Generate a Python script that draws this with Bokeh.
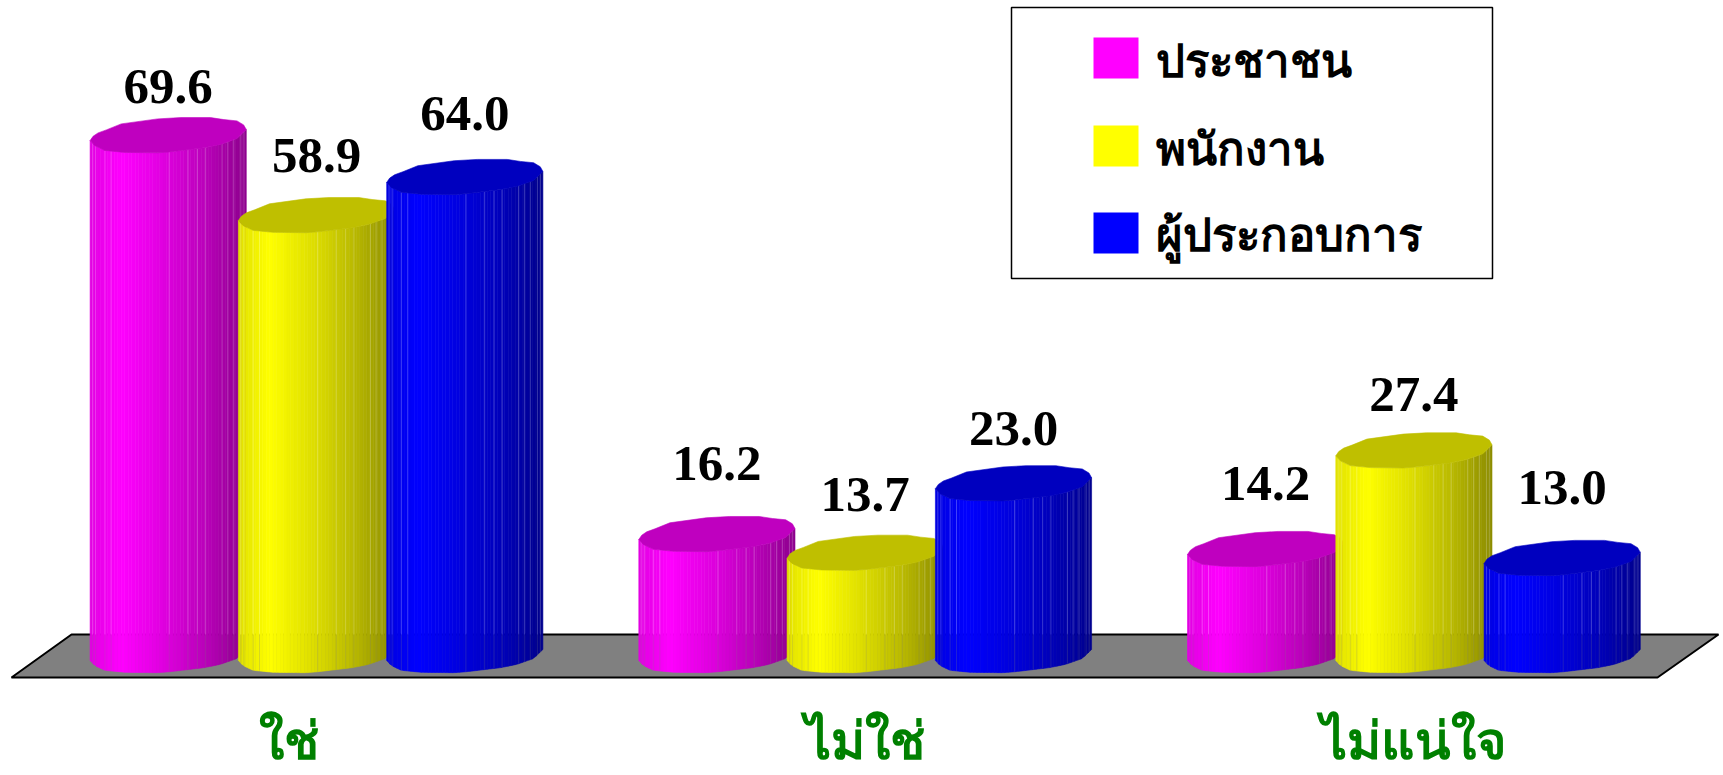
import numpy as np
from bokeh.embed import file_html
from bokeh.resources import INLINE
from bokeh.plotting import figure
from bokeh.models import ColumnDataSource, LinearAxis, FixedTicker, Range1d
from bokeh.core.properties import value

categories = ["ใช่", "ไม่ใช่", "ไม่แน่ใจ"]
series_names = ["ประชาชน", "พนักงาน", "ผู้ประกอบการ"]
people = [69.6, 16.2, 14.2]
staff = [58.9, 13.7, 27.4]
operators = [64.0, 23.0, 13.0]
series_values = [people, staff, operators]
base_colors = [(255, 0, 255), (255, 255, 0), (0, 0, 255)]

# layout (pixels of the page)
PX_PER_UNIT = 7.47
PX_PER_CAT = 548.7
ZERO_PX_Y = 660.0
CAT0_PX_X = 316.0
FIG_W, FIG_H = 1723, 775
SERIES_STEP = 148.3 / PX_PER_CAT
HALF_W = 78.1 / PX_PER_CAT
THAI = "Noto Sans"
TEXT_SHIFT = 17
LEGEND_SHIFT = 20
label_lift = [[37, 59, 54], [48, 47, 44], [52, 43, 59]]
tick_nudge = [-0.05, 0.0, 0.0]

def X(px):
    return (px - CAT0_PX_X) / PX_PER_CAT

def Y(px):
    return (ZERO_PX_Y - px) / PX_PER_UNIT

# cylinder outline, in fractions of the half width and in pixels
back_u = np.array([-1, -.962, -.898, -.792, -.602, -.136, .161, .542, .712, .881, .966, 1])
back_d = np.array([5.5, 1.2, -2.2, -5.2, -11.2, -16.2, -17.5, -17.5, -15.5, -14.2, -10.2, -5.5])
front_u = np.array([-1, -.941, -.814, -.559, -.136, .013, .458, .669, .881, 1])
front_d = np.array([5.5, 10.5, 15.3, 17.3, 17.7, 16.8, 12.7, 9.3, 3.5, -5.5])
shade_u = [-1, -.6, 0, .5, .8, 1]
shade_m = [.88, 1, .86, .72, .62, .55]
seams = np.array([-.97, -.93, -.81, -.73, .013, .254, .373, .479, .69, .763, .839, .93, .97])
strip_edges = np.linspace(-1, 1, 46)

def hexcol(rgb, m):
    return "#%02x%02x%02x" % tuple(int(round(c * m)) for c in rgb)

p = figure(width=FIG_W, height=FIG_H, output_backend="svg", toolbar_location=None,
           x_axis_type=None, y_axis_type=None, min_border=0,
           x_range=Range1d(X(0), X(FIG_W)), y_range=Range1d(Y(FIG_H), Y(0)),
           outline_line_color=None, background_fill_color="white", border_fill_color="white")
p.grid.visible = False

# floor
floor_x = [X(11), X(71), X(1718), X(1657)]
floor_y = [Y(677), Y(634), Y(634), Y(677)]
p.patch(floor_x, floor_y, fill_color="#808080", line_color="black", line_width=2)

floor_back = Y(634)
for cat in range(len(categories)):
    for s in range(len(series_names)):
        v = series_values[s][cat]
        cx = cat + (s - 1) * SERIES_STEP
        rgb = base_colors[s]
        base = 5.5 / PX_PER_UNIT
        xs, ys, cols = [], [], []
        for a, b in zip(strip_edges[:-1], strip_edges[1:]):
            ua = np.array([a, b])
            df = np.interp(ua, front_u, front_d) / PX_PER_UNIT
            xs.append(list(cx + np.array([a, b, b, a]) * HALF_W))
            ys.append([v + base - df[0], v + base - df[1], base - df[1], base - df[0]])
            col = hexcol(rgb, np.interp((a + b) / 2, shade_u, shade_m))
            cols.append(col)
        p.patches(xs, ys, fill_color=cols, line_color=cols, line_width=0.6)
        # seams between facets: background shows through
        sx_hi, sy_hi, sx_lo, sy_lo = [], [], [], []
        for u in seams:
            d = float(np.interp(u, front_u, front_d)) / PX_PER_UNIT
            x0 = cx + u * HALF_W
            sx_hi.append([x0, x0]); sy_hi.append([v + base - d, floor_back])
            sx_lo.append([x0, x0]); sy_lo.append([floor_back, base - d])
        p.multi_line(sx_hi, sy_hi, line_color="white", line_alpha=0.22, line_width=1)
        p.multi_line(sx_lo, sy_lo, line_color="#808080", line_alpha=0.22, line_width=1)
        # top face
        tx = list(cx + back_u * HALF_W) + list(cx + front_u[::-1] * HALF_W)
        td = list(back_d) + list(front_d[::-1])
        ty = [v + base - d / PX_PER_UNIT for d in td]
        top_col = hexcol(rgb, 0.75)
        p.patch(tx, ty, fill_color=top_col, line_color=top_col, line_width=0.6)

# value labels
lx, ly, lt, lo = [], [], [], []
for s in range(len(series_names)):
    for cat in range(len(categories)):
        lx.append(cat + (s - 1) * SERIES_STEP)
        ly.append(series_values[s][cat])
        lt.append("%.1f" % series_values[s][cat])
        lo.append(-label_lift[s][cat] - TEXT_SHIFT)
p.text(x="x", y="y", text="t", y_offset="o", source=ColumnDataSource(dict(x=lx, y=ly, t=lt, o=lo)),
       text_font=value("Liberation Serif"), text_font_style="bold", text_font_size="51px",
       text_color="black", text_align="center", text_baseline="alphabetic")

# legend
p.quad(left=[X(1011)], right=[X(1492)], top=[Y(7)], bottom=[Y(278)], fill_color="white",
       line_color="black", line_width=1.5)
sw_top = [37, 125, 212]
sw_base = [78, 166, 252]
for s, name in enumerate(series_names):
    p.quad(left=[X(1093)], right=[X(1138)], top=[Y(sw_top[s])], bottom=[Y(sw_top[s] + 41)],
           fill_color=hexcol(base_colors[s], 1), line_color=None)
    p.text(x=[X(1155)], y=[Y(sw_base[s] - LEGEND_SHIFT)], text=[name], text_font=value(THAI), text_font_style="bold",
           text_font_size="45.5px", text_color="black", text_align="left", text_baseline="alphabetic")

# category axis
tick_pos = [i + n for i, n in enumerate(tick_nudge)]
ax = LinearAxis(ticker=FixedTicker(ticks=tick_pos),
                major_label_overrides={t: c for t, c in zip(tick_pos, categories)},
                fixed_location=Y(690))
ax.axis_line_color = None
ax.major_tick_line_color = None
ax.minor_tick_line_color = None
ax.major_tick_out = 0
ax.major_label_standoff = 12
ax.major_label_text_font = THAI
ax.major_label_text_font_style = "bold"
ax.major_label_text_font_size = "52px"
ax.major_label_text_color = "green"
p.add_layout(ax, "below")

open("out.html", "w").write(file_html(p, INLINE))
